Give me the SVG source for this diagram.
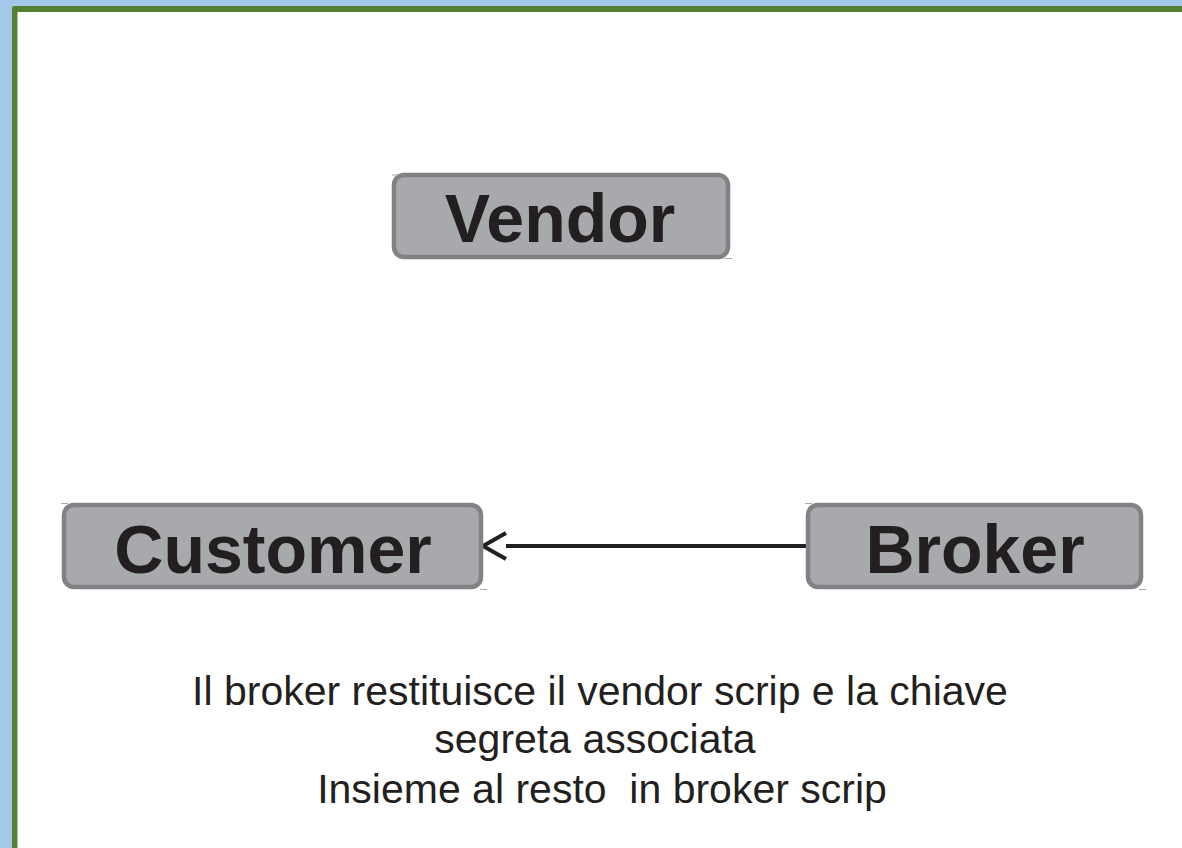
<svg xmlns="http://www.w3.org/2000/svg" width="1182" height="848" viewBox="0 0 1182 848">
  <style>
    .box { fill: #a7a9ac; stroke: #808285; stroke-width: 4.5; }
    .tick { stroke: #a7a9ac; stroke-width: 1; }
    .lbl { font-family: "Liberation Sans", Arial, sans-serif; font-weight: bold; font-size: 68px; fill: #231f20; text-anchor: middle; }
    .cap { font-family: "Liberation Sans", Arial, sans-serif; font-size: 41px; fill: #231f20; text-anchor: middle; white-space: pre; }
    .conn { stroke: #231f20; stroke-width: 4.2; fill: none; }
  </style>
  <defs>
    <marker id="openArrow" markerUnits="userSpaceOnUse" markerWidth="40" markerHeight="40" refX="8" refY="20" orient="auto-start-reverse" overflow="visible">
      <polyline points="8,7 31,20 8,33" fill="none" stroke="#231f20" stroke-width="4"/>
    </marker>
  </defs>
  <rect x="0" y="0" width="1182" height="848" fill="#a3c8ea"/>
  <rect x="12" y="6" width="1180" height="860" rx="2" fill="#548235"/>
  <rect x="17.5" y="12" width="1180" height="860" fill="#ffffff"/>

  <g id="connectors">
    <line class="conn" x1="806" y1="546" x2="506" y2="546" marker-end="url(#openArrow)"/>
  </g>

  <g id="vendor">
    <rect class="box" x="394" y="175" width="334" height="82" rx="10"/>
    <line class="tick" x1="392" y1="175" x2="398" y2="175"/>
    <line class="tick" x1="725" y1="258.5" x2="732" y2="258.5"/>
    <text class="lbl" x="560" y="242">Vendor</text>
  </g>

  <g id="customer">
    <rect class="box" x="64" y="505" width="417" height="82" rx="10"/>
    <line class="tick" x1="61" y1="503.5" x2="68" y2="503.5"/>
    <line class="tick" x1="480" y1="589.5" x2="487" y2="589.5"/>
    <text class="lbl" x="273" y="573">Customer</text>
  </g>

  <g id="broker">
    <rect class="box" x="808" y="505" width="333" height="82" rx="10"/>
    <line class="tick" x1="805" y1="503.5" x2="812" y2="503.5"/>
    <line class="tick" x1="1139" y1="589.5" x2="1146" y2="589.5"/>
    <text class="lbl" x="975" y="573">Broker</text>
  </g>

  <g id="caption">
    <text class="cap" x="600" y="705">Il broker restituisce il vendor scrip e la chiave</text>
    <text class="cap" x="595" y="753">segreta associata</text>
    <text class="cap" x="602" y="803" xml:space="preserve">Insieme al resto  in broker scrip</text>
  </g>
</svg>
